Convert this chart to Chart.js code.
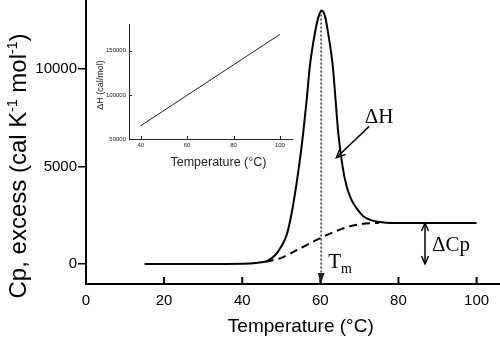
<!DOCTYPE html>
<html>
<head>
<meta charset="utf-8">
<script src="https://cdn.jsdelivr.net/npm/chart.js@4.4.1/dist/chart.umd.min.js"></script>
<style>
  html, body { margin: 0; padding: 0; background: #fff; }
  #wrap { position: relative; width: 500px; height: 340px; }
  #main { position: absolute; left: 0; top: 0; }
  #inset { position: absolute; left: 92px; top: 15px; }
</style>
</head>
<body>
<div id="wrap">
  <canvas id="main" width="500" height="340"></canvas>
  <canvas id="inset" width="208" height="160"></canvas>
</div>
<script>
// excess heat capacity curve (°C, cal K-1 mol-1)
const TEMP = [15, 30, 40, 44, 46.3, 48.4, 50, 51.4, 52.5, 53.5, 54.6, 55.6, 56.5, 57.3, 58.6, 59.5, 60.3, 61.2, 62.0, 63.2, 63.9, 64.6, 65.7, 66.7, 68, 69.5, 71, 73, 75.3, 78, 100];
const CP   = [0, 0, 10, 60, 150, 450, 900, 1500, 2450, 3600, 5100, 6700, 8410, 10120, 11830, 12650, 13000, 12700, 11830, 10120, 8410, 6700, 4990, 4000, 3280, 2800, 2450, 2250, 2150, 2100, 2100];
// progress baseline (dashed)
const BASE_T  = [46, 49.7, 52, 54.8, 57.5, 60, 62.5, 65, 67.5, 70, 72.5, 75];
const BASE_CP = [120, 290, 500, 800, 1080, 1330, 1560, 1760, 1930, 2030, 2090, 2100];

const X_TICKS = [0, 20, 40, 60, 80, 100];
const Y_TICKS = [0, 5000, 10000];
const X_MIN = 0, X_MAX = 106, Y_MIN = -1026, Y_MAX = 13540;

// annotations
const TM = 60.2, TM_TOP = 13000;
const DCP_T = 86.8, DCP_LOW = 0, DCP_HIGH = 2100;
const DH_ARROW_T = [72.5, 64.1];
const DH_ARROW_CP = [7060, 5450];

// inset: ΔH vs temperature
const INSET_T = [40, 100];
const INSET_DH = [65000, 168500];
const INSET_X_TICKS = [40, 60, 80, 100];
const INSET_Y_TICKS = [50000, 100000, 150000];

const SANS = '"Liberation Sans", Arial, sans-serif';
const SERIF = '"Liberation Serif", "Times New Roman", serif';

const pts = (xs, ys) => xs.map((x, i) => ({ x, y: ys[i] }));

function arrowHead(ctx, x1, y1, x2, y2, len, wid, filled) {
  const a = Math.atan2(y2 - y1, x2 - x1);
  const lx = x2 - len * Math.cos(a) + wid * Math.sin(a);
  const ly = y2 - len * Math.sin(a) - wid * Math.cos(a);
  const rx = x2 - len * Math.cos(a) - wid * Math.sin(a);
  const ry = y2 - len * Math.sin(a) + wid * Math.cos(a);
  ctx.beginPath();
  if (filled) {
    ctx.moveTo(x2, y2); ctx.lineTo(lx, ly); ctx.lineTo(rx, ry); ctx.closePath(); ctx.fill();
  } else {
    ctx.moveTo(lx, ly); ctx.lineTo(x2, y2); ctx.lineTo(rx, ry); ctx.stroke();
  }
}

const mainDecor = {
  id: 'mainDecor',
  afterDatasetsDraw(chart) {
    const { ctx, chartArea: ca, scales: { x, y } } = chart;
    ctx.save();
    ctx.strokeStyle = '#000'; ctx.fillStyle = '#000';
    // x ticks point inward
    ctx.lineWidth = 2;
    X_TICKS.forEach(v => {
      if (v === X_MIN) return;
      const px = x.getPixelForValue(v);
      ctx.beginPath(); ctx.moveTo(px, ca.bottom); ctx.lineTo(px, ca.bottom - 7); ctx.stroke();
    });
    // Tm arrow head
    const tm = chart.getDatasetMeta(2).data;
    ctx.fillStyle = '#222';
    arrowHead(ctx, tm[0].x, tm[0].y, tm[1].x, tm[1].y - 1, 10, 3.5, true);
    ctx.fillStyle = '#000';
    // ΔCp double arrow
    ctx.lineWidth = 1.5;
    const dc = chart.getDatasetMeta(3).data;
    arrowHead(ctx, dc[1].x, dc[1].y, dc[0].x, dc[0].y, 8, 3.5, false);
    arrowHead(ctx, dc[0].x, dc[0].y, dc[1].x, dc[1].y, 8, 3.5, false);
    // ΔH arrow
    const dh = chart.getDatasetMeta(4).data;
    arrowHead(ctx, dh[0].x, dh[0].y, dh[1].x, dh[1].y, 9, 4, false);

    // annotation text
    ctx.textBaseline = 'alphabetic'; ctx.textAlign = 'left';
    ctx.font = '21px ' + SERIF;
    ctx.fillText('ΔH', x.getPixelForValue(71.4), y.getPixelForValue(7230));
    ctx.fillText('ΔCp', x.getPixelForValue(88.6), y.getPixelForValue(667));
    const tx = x.getPixelForValue(62.0), ty = y.getPixelForValue(-205);
    ctx.fillText('T', tx, ty);
    const tw = ctx.measureText('T').width;
    ctx.font = '14px ' + SERIF;
    ctx.fillText('m', tx + tw, ty + 5);

    // x title
    ctx.font = '19px ' + SANS;
    ctx.textAlign = 'center'; ctx.textBaseline = 'middle';
    ctx.fillText('Temperature (°C)', x.getPixelForValue(55), 327);

    // y title with superscripts
    ctx.translate(18, 166);
    ctx.rotate(-Math.PI / 2);
    const parts = [['Cp, excess (cal K', 24, 0], ['-1', 14, -9], [' mol', 24, 0], ['-1', 14, -9], [')', 24, 0]];
    let total = 0;
    parts.forEach(p => { ctx.font = p[1] + 'px ' + SANS; total += ctx.measureText(p[0]).width; });
    let cx = -total / 2;
    ctx.textAlign = 'left'; ctx.textBaseline = 'alphabetic';
    parts.forEach(p => {
      ctx.font = p[1] + 'px ' + SANS;
      ctx.fillText(p[0], cx, 8 + p[2]);
      cx += ctx.measureText(p[0]).width;
    });
    ctx.restore();
  }
};

new Chart(document.getElementById('main'), {
  type: 'line',
  data: {
    datasets: [
      { data: pts(TEMP, CP), borderColor: '#000', borderWidth: 2, cubicInterpolationMode: 'monotone' },
      { data: pts(BASE_T, BASE_CP), borderColor: '#000', borderWidth: 2, borderDash: [8, 5], cubicInterpolationMode: 'monotone' },
      { data: [{ x: TM, y: TM_TOP }, { x: TM, y: Y_MIN }], borderColor: '#333', borderWidth: 1.5, borderDash: [2, 2] },
      { data: [{ x: DCP_T, y: DCP_LOW }, { x: DCP_T, y: DCP_HIGH }], borderColor: '#000', borderWidth: 1.5 },
      { data: pts(DH_ARROW_T, DH_ARROW_CP), borderColor: '#000', borderWidth: 1.5 }
    ]
  },
  options: {
    responsive: false, animation: false, devicePixelRatio: 1,
    layout: { padding: 0 },
    elements: { point: { radius: 0 }, line: { tension: 0 } },
    plugins: { legend: { display: false }, tooltip: { enabled: false } },
    scales: {
      x: {
        type: 'linear', min: X_MIN, max: X_MAX,
        afterBuildTicks: s => { s.ticks = X_TICKS.map(v => ({ value: v })); },
        afterFit: s => { s.height = 56; s.paddingLeft = 0; s.paddingRight = 0; },
        grid: { drawOnChartArea: false, drawTicks: false },
        border: { color: '#000', width: 2 },
        ticks: { color: '#000', font: { family: SANS, size: 15 }, padding: 8, maxRotation: 0 }
      },
      y: {
        type: 'linear', min: Y_MIN, max: Y_MAX,
        afterBuildTicks: s => { s.ticks = Y_TICKS.map(v => ({ value: v })); },
        afterFit: s => { s.width = 86; s.paddingTop = 0; s.paddingBottom = 0; },
        grid: { drawOnChartArea: false, color: '#000', lineWidth: 1.5, tickLength: 8 },
        border: { color: '#000', width: 2 },
        ticks: { color: '#000', font: { family: SANS, size: 15 }, padding: 1, callback: v => String(v) }
      }
    }
  },
  plugins: [mainDecor]
});

const insetDecor = {
  id: 'insetDecor',
  afterDatasetsDraw(chart) {
    const { ctx, chartArea: ca, scales: { x, y } } = chart;
    ctx.save();
    ctx.strokeStyle = '#222'; ctx.fillStyle = '#222'; ctx.lineWidth = 1;
    INSET_X_TICKS.forEach(v => {
      const px = Math.round(x.getPixelForValue(v)) + 0.5;
      ctx.beginPath(); ctx.moveTo(px, ca.bottom); ctx.lineTo(px, ca.bottom - 3); ctx.stroke();
    });
    INSET_Y_TICKS.forEach(v => {
      const py = Math.round(y.getPixelForValue(v)) + 0.5;
      ctx.beginPath(); ctx.moveTo(ca.left, py); ctx.lineTo(ca.left + 3, py); ctx.stroke();
    });
    ctx.font = '12.5px ' + SANS;
    ctx.textAlign = 'center'; ctx.textBaseline = 'middle';
    ctx.fillText('Temperature (°C)', x.getPixelForValue(73.5), 148);
    ctx.translate(8.5, 70);
    ctx.rotate(-Math.PI / 2);
    ctx.font = '9px ' + SANS;
    ctx.fillText('ΔH (cal/mol)', 0, 0);
    ctx.restore();
  }
};

new Chart(document.getElementById('inset'), {
  type: 'line',
  data: {
    datasets: [
      { data: pts(INSET_T, INSET_DH), borderColor: '#222', borderWidth: 1 }
    ]
  },
  options: {
    responsive: false, animation: false, devicePixelRatio: 1,
    layout: { padding: { top: 9, right: 8, left: 0, bottom: 0 } },
    elements: { point: { radius: 0 } },
    plugins: { legend: { display: false }, tooltip: { enabled: false } },
    scales: {
      x: {
        type: 'linear', min: 34.95, max: 105.2,
        afterBuildTicks: s => { s.ticks = INSET_X_TICKS.map(v => ({ value: v })); },
        afterFit: s => { s.height = 36; s.paddingLeft = 0; s.paddingRight = 0; },
        grid: { drawOnChartArea: false, drawTicks: false },
        border: { color: '#222', width: 1 },
        ticks: { color: '#222', font: { family: SANS, size: 6 }, padding: 3, maxRotation: 0 }
      },
      y: {
        type: 'linear', min: 50000, max: 180240,
        afterBuildTicks: s => { s.ticks = INSET_Y_TICKS.map(v => ({ value: v })); },
        afterFit: s => { s.width = 37; s.paddingTop = 0; s.paddingBottom = 0; },
        grid: { drawOnChartArea: false, drawTicks: false },
        border: { color: '#222', width: 1 },
        ticks: { color: '#222', font: { family: SANS, size: 6 }, padding: 3, callback: v => String(v) }
      }
    }
  },
  plugins: [insetDecor]
});
</script>
</body>
</html>
